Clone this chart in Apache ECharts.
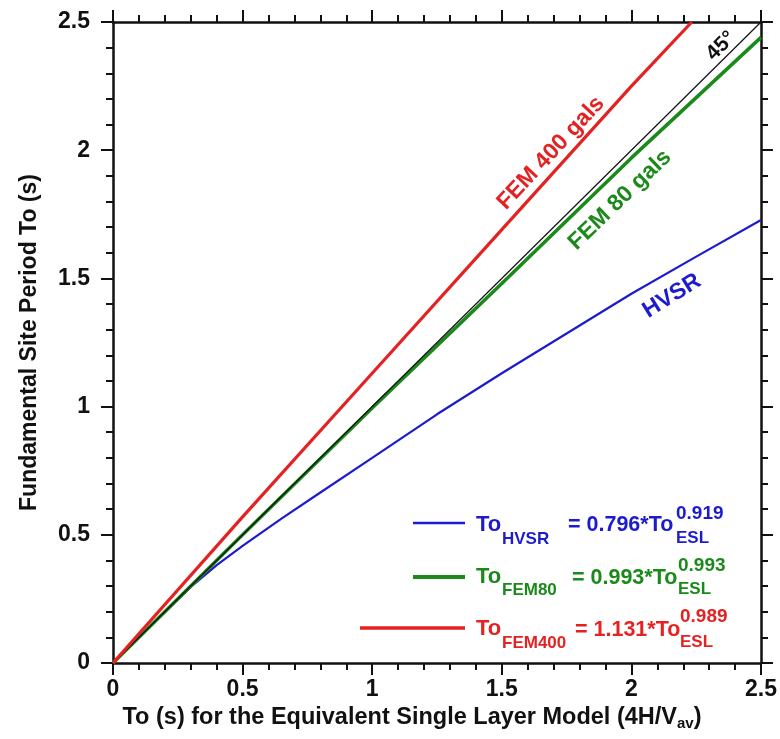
<!DOCTYPE html>
<html>
<head>
<meta charset="utf-8">
<script src="https://cdn.jsdelivr.net/npm/echarts@6/dist/echarts.min.js"></script>
<style>
  html, body { margin: 0; padding: 0; background: #fff; }
  #chart { width: 780px; height: 739px; }
</style>
</head>
<body>
<div id="chart"></div>
<script>
// values (To_ESL on x, To on y)
var hvsrX = [0, 0.1, 0.2, 0.3, 0.4, 0.5, 0.65, 0.8, 1.0, 1.25, 1.5, 1.75, 2.0, 2.25, 2.5];
var hvsrY = [0, 0.1, 0.198, 0.297, 0.382, 0.457, 0.563, 0.665, 0.80, 0.97, 1.13, 1.285, 1.44, 1.585, 1.728];
var fem80X = [0, 0.5, 1.0, 1.5, 2.0, 2.5];
var fem80Y = [0, 0.5, 0.995, 1.48, 1.97, 2.44];
var fem400X = [0, 0.5, 1.0, 1.5, 2.0, 2.233];
var fem400Y = [0, 0.57, 1.13, 1.69, 2.25, 2.5];
var diagX = [0, 2.5];
var diagY = [0, 2.5];

var BLUE = '#1c1ccc', GREEN = '#1b8a1b', RED = '#e52222';
var FONT = '"Liberation Sans", Arial, sans-serif';

function pairs(xs, ys) {
    return xs.map(function (x, i) { return [x, ys[i]]; });
}

function txt(x, y, s, size, color, rot, align) {
    return {
        type: 'text', x: x, y: y, rotation: (rot || 0) * Math.PI / 180, z: 100,
        style: {
            text: s, fill: color, font: 'bold ' + size + 'px ' + FONT,
            align: align || 'left', verticalAlign: 'middle'
        }
    };
}

function seg(x1, x2, y, color, w) {
    return { type: 'line', z: 100, shape: { x1: x1, y1: y, x2: x2, y2: y }, style: { stroke: color, lineWidth: w } };
}

var axisCommon = {
    type: 'value', min: 0, max: 2.5, interval: 0.5,
    axisLine: { show: true, onZero: false, lineStyle: { color: '#111', width: 2.5 } },
    axisTick: { show: true, length: 12, lineStyle: { color: '#111', width: 2 } },
    minorTick: { show: true, splitNumber: 5, length: 7, lineStyle: { color: '#111', width: 2 } },
    splitLine: { show: false }
};

function ax(extra) {
    return Object.assign({}, JSON.parse(JSON.stringify(axisCommon)), extra);
}

var option = {
    animation: false,
    backgroundColor: '#fff',
    grid: { left: 113, right: 18, top: 22, bottom: 76 },
    xAxis: [
        ax({
            position: 'bottom',
            name: 'To (s) for the Equivalent Single Layer Model (4H/V{sub|av})',
            nameLocation: 'middle', nameGap: 37,
            nameTextStyle: {
                color: '#111', fontSize: 23.5, fontWeight: 'bold', fontFamily: FONT,
                padding: [0, 50, 0, 0],
                rich: { sub: { fontSize: 15, fontWeight: 'bold', fontFamily: FONT, color: '#111', padding: [12, 0, 0, 0] } }
            },
            axisLabel: { color: '#111', fontSize: 23, fontWeight: 'bold', fontFamily: FONT, margin: 15,
                formatter: function (v) { return String(v); } }
        }),
        ax({ position: 'top', axisLabel: { show: false } })
    ],
    yAxis: [
        ax({
            position: 'left',
            name: 'Fundamental Site Period To (s)',
            nameLocation: 'middle', nameGap: 72,
            nameTextStyle: { color: '#111', fontSize: 23, fontWeight: 'bold', fontFamily: FONT },
            axisLabel: { color: '#111', fontSize: 23, fontWeight: 'bold', fontFamily: FONT, margin: 23,
                formatter: function (v) { return String(v); } }
        }),
        ax({ position: 'right', axisLabel: { show: false } })
    ],
    series: [
        { name: 'HVSR', type: 'line', data: pairs(hvsrX, hvsrY), showSymbol: false, symbol: 'none',
          lineStyle: { color: BLUE, width: 2.2 }, z: 2 },
        { name: 'FEM 80 gals', type: 'line', data: pairs(fem80X, fem80Y), showSymbol: false, symbol: 'none',
          lineStyle: { color: GREEN, width: 3.5 }, z: 3 },
        { name: '45', type: 'line', data: pairs(diagX, diagY), showSymbol: false, symbol: 'none',
          lineStyle: { color: '#111', width: 1.2 }, z: 4 },
        { name: 'FEM 400 gals', type: 'line', data: pairs(fem400X, fem400Y), showSymbol: false, symbol: 'none',
          lineStyle: { color: RED, width: 3.2 }, z: 5 }
    ],
    graphic: [
        // in-plot labels
        txt(551, 153, 'FEM 400 gals', 23, RED, 47, 'center'),
        txt(620, 200, 'FEM 80 gals', 23, GREEN, 44, 'center'),
        txt(721, 46, '45°', 21, '#111', 45, 'center'),
        txt(672, 296, 'HVSR', 23, BLUE, 32, 'center'),
        // legend
        seg(413, 465, 523, BLUE, 2.5),
        txt(476, 525, 'To', 22, BLUE),
        txt(502, 539, 'HVSR', 17, BLUE),
        txt(568, 525, '= 0.796*To', 21.5, BLUE),
        txt(676, 514, '0.919', 19, BLUE),
        txt(676, 538, 'ESL', 17, BLUE),

        seg(413, 465, 577, GREEN, 4),
        txt(476, 577, 'To', 22, GREEN),
        txt(502, 590, 'FEM80', 17, GREEN),
        txt(572, 578, '= 0.993*To', 21.5, GREEN),
        txt(678, 566, '0.993', 19, GREEN),
        txt(678, 589, 'ESL', 17, GREEN),

        seg(360, 465, 628, RED, 3.5),
        txt(476, 629, 'To', 22, RED),
        txt(502, 643, 'FEM400', 17, RED),
        txt(575, 630, '= 1.131*To', 21.5, RED),
        txt(680, 617, '0.989', 19, RED),
        txt(680, 642, 'ESL', 17, RED)
    ]
};

var myChart = echarts.init(document.getElementById('chart'));
myChart.setOption(option);
</script>
</body>
</html>
